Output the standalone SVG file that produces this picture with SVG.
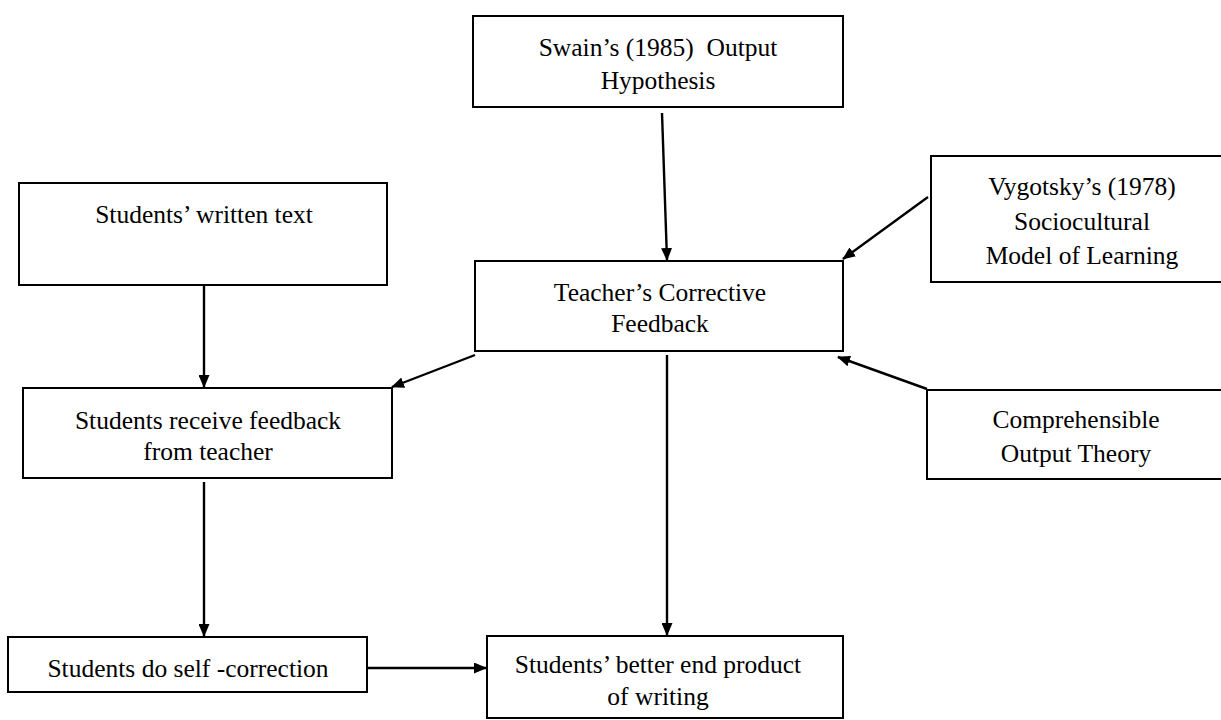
<svg xmlns="http://www.w3.org/2000/svg" width="1221" height="720" viewBox="0 0 1221 720">
<style>
.box{fill:#fff;stroke:#000;stroke-width:2}
.t{font-family:"Liberation Serif","Times New Roman",serif;font-size:25.5px;fill:#000;text-anchor:middle}
.c{stroke:#000;stroke-width:2.4;fill:none}
</style>
<defs>
<marker id="ah" markerWidth="13" markerHeight="11" refX="12" refY="5.5" orient="auto" markerUnits="userSpaceOnUse">
<path d="M0,0 L13,5.5 L0,11 Z" fill="#000"/>
</marker>
</defs>
<rect width="1221" height="720" fill="#fff"/>
<g id="swain">
<rect class="box" x="473" y="16" width="370" height="91"/>
<text class="t" x="658" y="56" xml:space="preserve">Swain’s (1985)  Output</text>
<text class="t" x="658" y="89">Hypothesis</text>
</g>
<g id="vygotsky">
<rect class="box" x="931" y="156" width="310" height="126"/>
<text class="t" x="1082" y="195">Vygotsky’s (1978)</text>
<text class="t" x="1082" y="230">Sociocultural</text>
<text class="t" x="1082" y="264">Model of Learning</text>
</g>
<g id="written">
<rect class="box" x="19" y="183" width="368" height="102"/>
<text class="t" x="204" y="223">Students’ written text</text>
</g>
<g id="teacher">
<rect class="box" x="475" y="261" width="368" height="90"/>
<text class="t" x="660" y="301">Teacher’s Corrective</text>
<text class="t" x="660" y="332">Feedback</text>
</g>
<g id="receive">
<rect class="box" x="23" y="388" width="369" height="90"/>
<text class="t" x="208" y="429">Students receive feedback</text>
<text class="t" x="208" y="460">from teacher</text>
</g>
<g id="comprehensible">
<rect class="box" x="927" y="390" width="310" height="89"/>
<text class="t" x="1076" y="428">Comprehensible</text>
<text class="t" x="1076" y="462">Output Theory</text>
</g>
<g id="selfcorrection">
<rect class="box" x="8" y="637" width="359" height="55"/>
<text class="t" x="188" y="677" xml:space="preserve">Students do self -correction</text>
</g>
<g id="betterend">
<rect class="box" x="487" y="636" width="356" height="82"/>
<text class="t" x="658" y="673">Students’ better end product</text>
<text class="t" x="658" y="705">of writing</text>
</g>
<g id="connectors">
<line class="c" x1="662" y1="113" x2="667" y2="260" marker-end="url(#ah)"/>
<line class="c" x1="928" y1="197" x2="843" y2="259" marker-end="url(#ah)"/>
<line class="c" x1="927" y1="389" x2="838" y2="357" marker-end="url(#ah)"/>
<line class="c" x1="204" y1="285" x2="204" y2="387" marker-end="url(#ah)"/>
<line class="c" x1="475" y1="355" x2="392" y2="387" marker-end="url(#ah)"/>
<line class="c" x1="667" y1="355" x2="667" y2="635" marker-end="url(#ah)"/>
<line class="c" x1="204" y1="482" x2="204" y2="636" marker-end="url(#ah)"/>
<line class="c" x1="367" y1="668" x2="486" y2="668" marker-end="url(#ah)"/>
</g>
</svg>
